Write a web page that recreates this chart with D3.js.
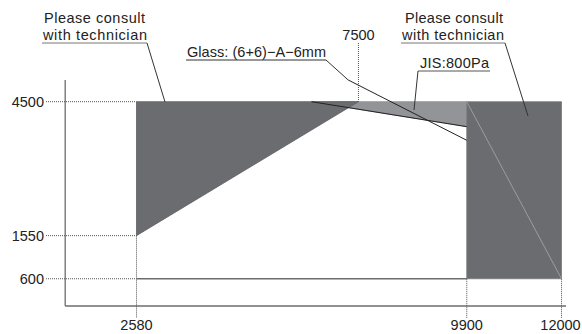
<!DOCTYPE html>
<html><head><meta charset="utf-8">
<script src="https://cdn.jsdelivr.net/npm/d3@7"></script>
<style>body{margin:0;background:#fff}svg{display:block}text{font-family:"Liberation Sans",Arial,sans-serif;fill:#222}</style>
</head><body><svg id="c" width="582" height="334"></svg>
<script>
// ---- data ----
const xTicks = [2580, 9900, 12000];
const xTopTick = 7500;
const yTicks = [4500, 1550, 600];
const darkZone = [[2580, 1550], [2580, 4500], [7500, 4500]];
const jisZone = [[6460, 4500], [9900, 4500], [9900, 3950]];
const jisLine = [[6460, 4500], [9900, 3950]];
const glassLine = [[7270, 4980], [9900, 3650]];
const rightZone = [[9900, 600], [9900, 4500], [12000, 4500], [12000, 600]];
const rightDiag = [[9900, 4500], [12000, 600]];
const baseLine = [[2580, 600], [9900, 600]];
const labels = {
  left: ["Please consult", "with technician"],
  right: ["Please consult", "with technician"],
  glass: "Glass: (6+6)\u2212A\u22126mm",
  jis: "JIS:800Pa"
};

// ---- scales ----
const x = d3.scaleLinear().domain([1000, 12000]).range([65.2, 561.5]);
const y = d3.scaleLinear().domain([0, 5000]).range([306, 79]);
const svg = d3.select("#c");
const line = d3.line().x(d => x(d[0])).y(d => y(d[1]));
const poly = pts => line(pts) + "Z";
const FS = 14.5;

// fills
svg.append("path").attr("d", poly(jisZone)).attr("fill", "#939498").attr("stroke", "#8a8b8e").attr("stroke-width", 0.8);
svg.append("path").attr("d", poly(darkZone)).attr("fill", "#6b6c70").attr("stroke", "#5e5f63").attr("stroke-width", 0.8);
svg.append("path").attr("d", poly(rightZone)).attr("fill", "#6b6c70").attr("stroke", "#77787b").attr("stroke-width", 0.8);
svg.append("path").attr("d", line(rightDiag)).attr("fill", "none").attr("stroke", "#a9aaad").attr("stroke-width", 0.8);

// axes lines
svg.append("line").attr("x1", x(1000)).attr("x2", x(1000)).attr("y1", y(4980)).attr("y2", y(0)).attr("stroke", "#6d6d6d").attr("stroke-width", 1.3);
svg.append("line").attr("x1", x(1000)).attr("x2", x(12100)).attr("y1", y(0)).attr("y2", y(0)).attr("stroke", "#6d6d6d").attr("stroke-width", 1.5);
svg.append("path").attr("d", line(baseLine)).attr("stroke", "#6d6d6d").attr("stroke-width", 1.4).attr("fill", "none");

// dotted guides
const dot = (x1, y1, x2, y2) => svg.append("line").attr("x1", x1).attr("y1", y1).attr("x2", x2).attr("y2", y2)
  .attr("stroke", "#555").attr("stroke-width", 1).attr("stroke-dasharray", "1,1");
const yGuideEnd = {4500: 2580, 1550: 2580, 600: 2580};
yTicks.forEach(v => dot(46, y(v), x(yGuideEnd[v]), y(v)));
const xGuideStart = {2580: 1550, 9900: 600, 12000: 600};
xTicks.forEach(v => dot(x(v), y(xGuideStart[v]), x(v), 318));
dot(x(xTopTick), 43, x(xTopTick), y(4500));

// data lines
svg.append("path").attr("d", line(jisLine)).attr("fill", "none").attr("stroke", "#222").attr("stroke-width", 1);
svg.append("path").attr("d", line(glassLine)).attr("fill", "none").attr("stroke", "#222").attr("stroke-width", 1);

// tick labels
svg.selectAll(".yl").data(yTicks).join("text").attr("x", 44).attr("y", v => y(v) + 5)
  .attr("text-anchor", "end").attr("font-size", FS).text(v => v);
svg.selectAll(".xl").data(xTicks).join("text").attr("x", v => x(v) + (v === 12000 ? -1 : 0)).attr("y", 330)
  .attr("text-anchor", "middle").attr("font-size", FS).text(v => v);
svg.append("text").attr("x", x(xTopTick)).attr("y", 40).attr("text-anchor", "middle").attr("font-size", FS).text(xTopTick);

// annotations
function txt(t, x0, yb, w) {
  svg.append("text").attr("x", x0).attr("y", yb).attr("font-size", FS)
    .attr("textLength", w).attr("lengthAdjust", "spacing").text(t);
}
function lead(pts, col) {
  svg.append("path").attr("d", d3.line()(pts)).attr("fill", "none").attr("stroke", col || "#333").attr("stroke-width", 1);
}
// left
txt(labels.left[0], 44, 23, 101);
txt(labels.left[1], 43, 40, 104);
lead([[42, 43], [147, 43]], "#777");
lead([[147, 43], [165, 102]]);
// right
txt(labels.right[0], 405, 23, 98);
txt(labels.right[1], 402, 40, 102);
lead([[401, 43], [505, 43]], "#777");
lead([[505, 43], [528, 116]]);
// glass
txt(labels.glass, 187, 57, 139);
lead([[186, 60], [326, 60]], "#333");
lead([[326, 60], [x(glassLine[0][0]), y(glassLine[0][1])]]);
// JIS
txt(labels.jis, 420, 68, 69);
lead([[418, 71], [490, 71]], "#555");
lead([[418, 71], [414, 110]]);
</script></body></html>
